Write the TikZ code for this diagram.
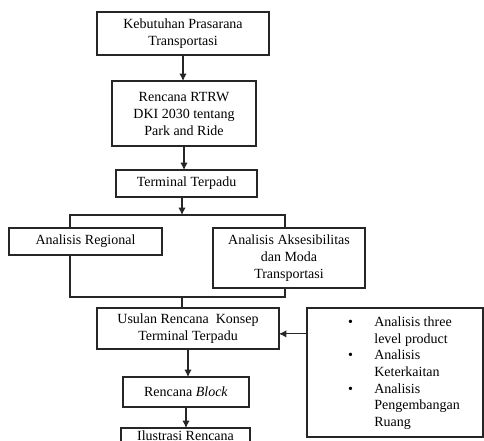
\documentclass[tikz,border=0pt]{standalone}
\usepackage{fontspec}
\setmainfont{Liberation Serif}
\usetikzlibrary{arrows.meta,positioning,calc}

\begin{document}
\begin{tikzpicture}[x=0.75pt,y=-0.75pt,every node/.style={outer sep=0pt},
  box/.style={draw=black!85,line width=0.8pt,align=center,inner sep=2pt,
    font=\fontsize{10.5}{12.75}\selectfont},
  arr/.style={-{Latex[length=5.5pt,width=5.5pt]},line width=0.8pt,draw=black!85},
  ln/.style={line width=0.8pt,draw=black!85}]
\useasboundingbox (0,0) rectangle (484,440);
\clip (0,0) rectangle (484,440);
\node (K) [box,minimum width=129pt,minimum height=32.25pt] at (183,33.5)
{Kebutuhan Prasarana\\Transportasi};
\node (R) [box,minimum width=108pt,minimum height=48.75pt] at (184,113.5)
{Rencana RTRW\\DKI 2030 tentang\\Park and Ride};
\node (T) [box,minimum width=105.75pt,minimum height=20.25pt] at (186.5,183.5)
{Terminal Terpadu};
\node (Reg) [box,minimum width=114.75pt,minimum height=20.25pt] at (85.5,241.5)
{Analisis Regional};
\node (Aks) [box,minimum width=114pt,minimum height=45pt] at (289,258)
{Analisis Aksesibilitas\\dan Moda\\Transportasi};
\node (U) [box,minimum width=136.5pt,minimum height=30.75pt] at (188,328.5)
{Usulan Rencana~ Konsep\\Terminal~Terpadu};
\node (L) [box,minimum width=132pt,minimum height=96.75pt] at (395,372.5) {};
\node (Ltext) [font=\fontsize{10.5}{12.5}\selectfont,inner sep=0pt] at (404,373)
{\begin{tabular}{@{}l@{\hspace{16pt}}l@{}}
\textbullet & Analisis three\\
 & level product\\
\textbullet & Analisis\\
 & Keterkaitan\\
\textbullet & Analisis\\
 & Pengembangan\\
 & Ruang
\end{tabular}};
\node (B) [box,minimum width=94.5pt,minimum height=22.5pt] at (186,392)
{Rencana \textit{Block}};
\node (I) [box,minimum width=96.75pt,anchor=north] at (185.5,428)
{Ilustrasi Rencana};
% bracket corners
\coordinate (tl) at (70,215);
\coordinate (tr) at (285,215);
\coordinate (tm) at (182,215);
\coordinate (bl) at (70,297);
\coordinate (br) at (285,297);
\coordinate (bm) at (182,297);
\draw [arr] (K.south) -- (K.south |- R.north);
\draw [arr] (R.south) -- (R.south |- T.north);
\draw [arr] (T.south -| tm) -- (tm);
\draw [ln] (Reg.north -| tl) -- (tl) -- (tr) -- (Aks.north -| tr);
\draw [ln] (Reg.south -| bl) -- (bl) -- (br) -- (Aks.south -| br);
\draw [ln] (bm) -- (U.north -| bm);
\draw [arr] ([yshift=-4pt]U.east -| L.west) -- ([yshift=-4pt]U.east);
\draw [arr] (U.south) -- (U.south |- B.north);
\draw [arr] (B.south) -- (B.south |- I.north);
\end{tikzpicture}
\end{document}
